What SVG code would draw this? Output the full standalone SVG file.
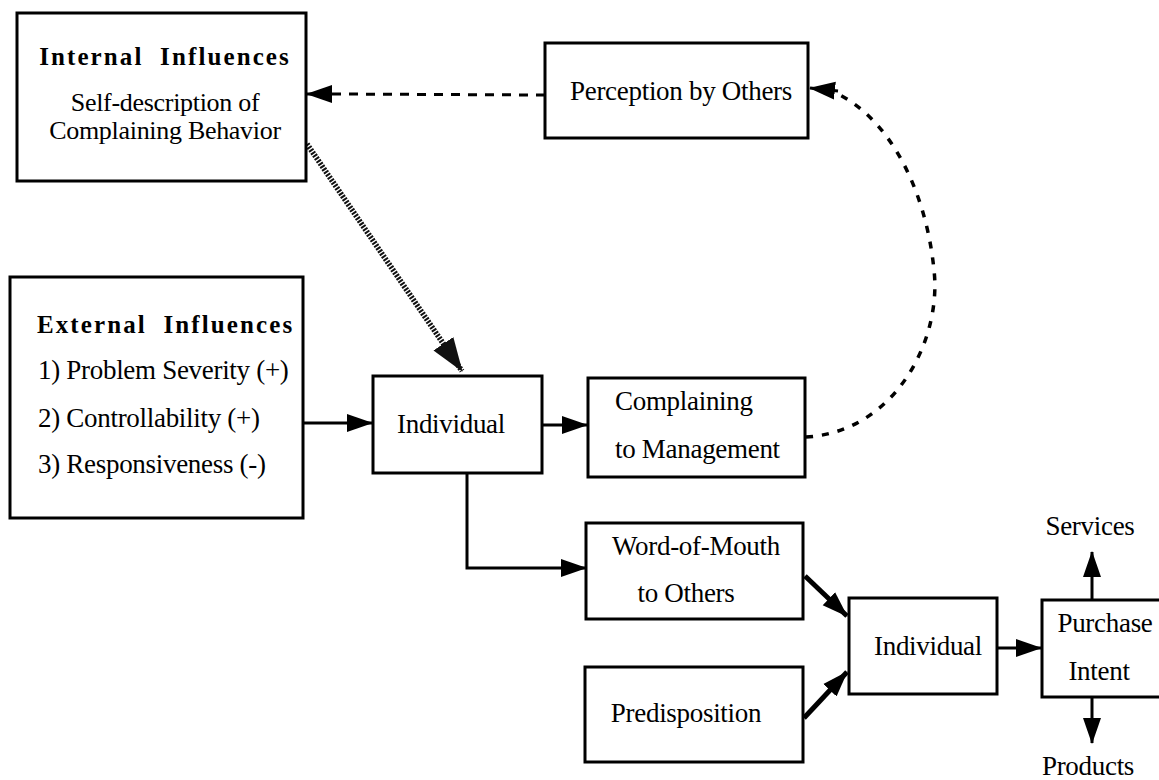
<svg xmlns="http://www.w3.org/2000/svg" width="1159" height="780" viewBox="0 0 1159 780">
  <defs>
    <style>
      .box { fill: #fff; stroke: #000; stroke-width: 3; }
      .t { font-family: "Liberation Serif", "Times New Roman", serif; font-size: 27px; letter-spacing: -0.3px; fill: #000; }
      .s { font-size: 26px; }
      .h { font-family: "Liberation Serif", "Times New Roman", serif; font-size: 25px; font-weight: bold; letter-spacing: 2.1px; fill: #000; white-space: pre; }
      .c { text-anchor: middle; }
      .ln { fill: none; stroke: #000; stroke-width: 3; }
      .thick { fill: none; stroke: #000; stroke-width: 5; }
      .dash { fill: none; stroke: #000; stroke-width: 3; stroke-dasharray: 9 8; }
      .dot { fill: none; stroke: #000; stroke-width: 3.5; stroke-dasharray: 7 9; }
      .hatch { fill: none; stroke: #111; stroke-width: 5.5; stroke-dasharray: 2 1.3; }
    </style>
    <marker id="ah" markerUnits="userSpaceOnUse" markerWidth="26" markerHeight="20" viewBox="0 0 26 20" refX="25" refY="10" orient="auto">
      <path d="M0,1 L26,10 L0,19 Z" fill="#000"/>
    </marker>
    <marker id="ahh" markerUnits="userSpaceOnUse" markerWidth="34" markerHeight="28" viewBox="0 0 34 28" refX="33" refY="14" orient="auto">
      <path d="M0,2 L34,14 L0,26 Z" fill="#111"/>
    </marker>
  </defs>

  <!-- connectors -->
  <g id="connectors">
    <!-- feedback: perception to internal influences -->
    <line class="dash" x1="545" y1="95" x2="332" y2="94"/>
    <path d="M332,94 L307,94" class="ln" marker-end="url(#ah)"/>
    <!-- internal influences to individual -->
    <line class="hatch" x1="307" y1="144" x2="462" y2="371" marker-end="url(#ahh)"/>
    <!-- external influences to individual -->
    <line class="ln" x1="303" y1="423" x2="372" y2="423" marker-end="url(#ah)"/>
    <!-- individual to complaining -->
    <line class="ln" x1="542" y1="425" x2="587" y2="425" marker-end="url(#ah)"/>
    <!-- complaining loops back to perception -->
    <path class="dot" d="M806,437 C895,432 942,340 934,270 C926,190 890,120 838,94"/>
    <line class="ln" x1="838" y1="91" x2="810" y2="88" marker-end="url(#ah)"/>
    <!-- individual to word-of-mouth -->
    <path class="ln" d="M467,474 L467,568 L586,568" marker-end="url(#ah)"/>
    <!-- word-of-mouth and predisposition to individual -->
    <line class="thick" x1="805" y1="576" x2="847" y2="616" marker-end="url(#ah)"/>
    <line class="thick" x1="804" y1="718" x2="847" y2="672" marker-end="url(#ah)"/>
    <!-- individual to purchase intent -->
    <line class="ln" x1="997" y1="648" x2="1041" y2="648" marker-end="url(#ah)"/>
    <!-- purchase intent outcomes -->
    <line class="ln" x1="1092" y1="600" x2="1092" y2="552" marker-end="url(#ah)"/>
    <line class="ln" x1="1092" y1="697" x2="1092" y2="743" marker-end="url(#ah)"/>
  </g>

  <g id="internal">
    <rect class="box" x="17" y="13" width="289" height="168"/>
    <text class="h c" x="165" y="65" xml:space="preserve">Internal  Influences</text>
    <text class="t s c" x="165" y="111">Self-description of</text>
    <text class="t s c" x="165" y="139">Complaining Behavior</text>
  </g>

  <g id="perception">
    <rect class="box" x="545" y="43" width="263" height="95"/>
    <text class="t c" x="681" y="100">Perception by Others</text>
  </g>

  <g id="external">
    <rect class="box" x="10" y="277" width="293" height="241"/>
    <text class="h" x="37" y="333" xml:space="preserve">External  Influences</text>
    <text class="t" x="38" y="379">1) Problem Severity (+)</text>
    <text class="t" x="38" y="427">2) Controllability (+)</text>
    <text class="t" x="38" y="473">3) Responsiveness (-)</text>
  </g>

  <g id="individual1">
    <rect class="box" x="373" y="376" width="169" height="97"/>
    <text class="t c" x="451" y="433">Individual</text>
  </g>

  <g id="complaining">
    <rect class="box" x="588" y="378" width="217" height="99"/>
    <text class="t" x="615" y="410">Complaining</text>
    <text class="t" x="615" y="458">to Management</text>
  </g>

  <g id="wordofmouth">
    <rect class="box" x="586" y="523" width="217" height="96"/>
    <text class="t c" x="696" y="555">Word-of-Mouth</text>
    <text class="t c" x="686" y="602">to Others</text>
  </g>

  <g id="predisposition">
    <rect class="box" x="585" y="667" width="218" height="95"/>
    <text class="t c" x="686" y="722">Predisposition</text>
  </g>

  <g id="individual2">
    <rect class="box" x="849" y="598" width="148" height="96"/>
    <text class="t c" x="928" y="655">Individual</text>
  </g>

  <g id="purchase">
    <rect class="box" x="1042" y="600" width="130" height="97"/>
    <text class="t c" x="1105" y="632">Purchase</text>
    <text class="t c" x="1099" y="680">Intent</text>
  </g>

  <g id="services">
    <text class="t c" x="1090" y="535">Services</text>
  </g>

  <g id="products">
    <text class="t c" x="1088" y="775">Products</text>
  </g>
</svg>
